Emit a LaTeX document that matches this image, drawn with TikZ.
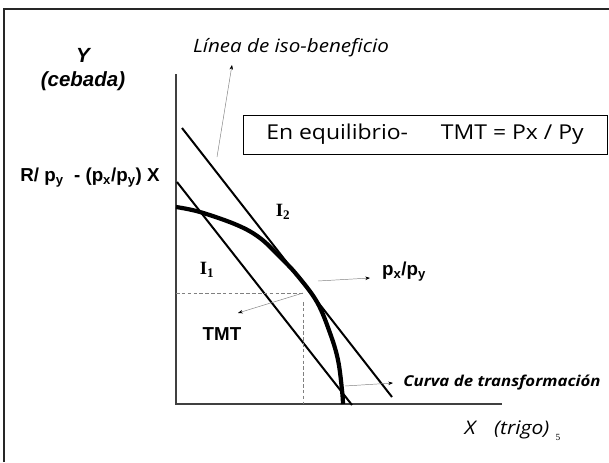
\documentclass[tikz,border=0pt]{standalone}
\usepackage{fontspec}
\setmainfont{Liberation Sans}
\newfontfamily\timesfont{Liberation Serif}
\newfontfamily\comicfont{Open Sans}[FakeStretch=1.12]
\usetikzlibrary{arrows.meta}
\usetikzlibrary{positioning}
\usetikzlibrary{calc}

\tikzset{
  pointer/.style={gray, line width=0.4pt, -{Stealth[black, length=4pt, width=3pt]}},
  guide/.style={gray, line width=0.5pt, densely dashed},
  budget/.style={black, line width=1.7pt},
  arial/.style={font=\fontsize{16}{18}\selectfont\bfseries, inner sep=0pt},
  comic/.style={font=\comicfont\itshape, inner sep=0pt},
}

\begin{document}
\begin{tikzpicture}[x=0.03cm, y=-0.03cm]
 \useasboundingbox (0,0) rectangle (609,462);

 %frame
 \draw[black!85, line width=2.2pt] (4,462) -- (4,9) -- (609,9);

 %axes
 \coordinate (o) at (176,404);
 \coordinate (ytop) at (176,74);
 \coordinate (xend) at (502,404);
 \draw[black!75, line width=1.2pt] (ytop) -- (o) -- (xend);

 %iso-beneficio lines
 \coordinate (a1) at (177,182);
 \coordinate (b1) at (352,405);
 \coordinate (a2) at (182,128);
 \coordinate (b2) at (392,397);
 \draw[budget] (a1) -- (b1);
 \draw[budget] (a2) -- (b2);

 %transformation curve
 \draw[line width=3.6pt] plot[smooth, tension=0.6] coordinates {(176,207) (200,212) (237,225) (260,238) (280,257) (297,275) (317,302) (330,333) (338,360) (342,390) (343,404)};

 %equilibrium
 \coordinate (eq) at (303,293);
 \coordinate (yeq) at (176,293);
 \coordinate (xtop) at (303,302);
 \coordinate (xeq) at (303,404);
 \draw[guide] (yeq) -- (eq);
 \draw[guide] (xtop) -- (xeq);

 %labels
 \node[arial, font=\fontsize{17.5}{19}\selectfont\bfseries\itshape] (ylab) at (83,55) {Y};
 \node[arial, font=\fontsize{17.5}{19}\selectfont\bfseries\itshape] (cebada) at (83,81) {(cebada)};
 \node[arial] (rlab) at (90,178) {R/ p\textsubscript{y} \ - (p\textsubscript{x}/p\textsubscript{y}) X};
 \node[arial] (tmt) at (222,334) {TMT};
 \node[arial] (pxpy) at (404,272) {p\textsubscript{x}/p\textsubscript{y}};
 \foreach \i/\name/\px/\py in {1/1/207/270, 2/2/283/212} {
   \node[inner sep=0pt, font=\timesfont\fontsize{16}{18}\selectfont\bfseries] (i\i) at (\px,\py) {I\textsubscript{\name}};
 }

 \node[comic, font=\comicfont\itshape\fontsize{15.7}{17}\selectfont] (iso) at (291,48) {Línea de iso-beneficio};
 \node[draw, line width=0.6pt, minimum width=10.92cm, minimum height=1.17cm, font=\comicfont\fontsize{17.5}{19}\selectfont] (box) at (425,134.5) {En equilibrio-\hspace{1.6em}TMT = Px / Py};
 \node[comic, font=\comicfont\itshape\bfseries\fontsize{12.8}{14}\selectfont] (curva) at (502,383) {Curva de transformación};
 \node[comic, font=\comicfont\itshape\fontsize{16}{18}\selectfont] (xlab) at (507,430) {X\hspace{1em}(trigo)};
 \node[inner sep=0pt, font=\timesfont\fontsize{8}{9}\selectfont] (page) at (558,437) {5};

 %pointers
 \coordinate (isofrom) at (217,157);
 \coordinate (isoto) at (232,65);
 \coordinate (tmtto) at (238,313);
 \coordinate (pfrom) at (318,281);
 \coordinate (pto) at (370,278);
 \coordinate (cfrom) at (345,386);
 \coordinate (cto) at (393,383);
 \draw[pointer] (isofrom) -- (isoto);
 \draw[pointer] (eq) -- (tmtto);
 \draw[pointer] (pfrom) -- (pto);
 \draw[pointer] (cfrom) -- (cto);

\end{tikzpicture}
\end{document}
